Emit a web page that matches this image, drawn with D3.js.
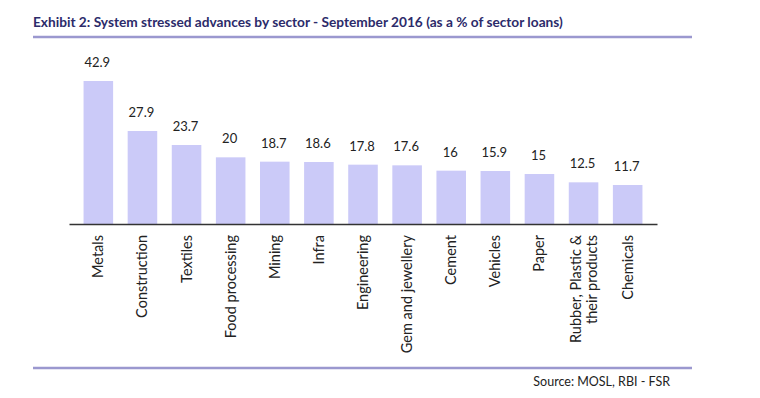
<!DOCTYPE html>
<html>
<head>
<meta charset="utf-8">
<script src="https://cdn.jsdelivr.net/npm/d3@7"></script>
<style>
  body { margin: 0; background: #fff; }
  text { font-family: Lato, "Open Sans", sans-serif; }
</style>
</head>
<body>
<script>
const sectors = [
  "Metals", "Construction", "Textiles", "Food processing", "Mining", "Infra",
  "Engineering", "Gem and jewellery", "Cement", "Vehicles", "Paper",
  "Rubber, Plastic &|their products", "Chemicals"
];
const stressed = [42.9, 27.9, 23.7, 20, 18.7, 18.6, 17.8, 17.6, 16, 15.9, 15, 12.5, 11.7];

const width = 760;
const height = 398;

const svg = d3.select("body")
  .append("svg")
  .attr("width", width)
  .attr("height", height);

// title + rules
svg.append("text")
  .attr("x", 33)
  .attr("y", 27)
  .style("font-size", "13.7px")
  .style("font-weight", "bold")
  .attr("fill", "#2c2b6a")
  .text("Exhibit 2: System stressed advances by sector - September 2016 (as a % of sector loans)");

svg.append("line")
  .attr("x1", 33).attr("x2", 692)
  .attr("y1", 37).attr("y2", 37)
  .attr("stroke", "#9b98cf")
  .attr("stroke-width", 2.5);

svg.append("line")
  .attr("x1", 33).attr("x2", 692)
  .attr("y1", 368).attr("y2", 368)
  .attr("stroke", "#9b98cf")
  .attr("stroke-width", 2.5);

const x = d3.scaleBand()
  .domain(sectors)
  .range([69, 657])
  .padding(0.33);

const y = d3.scaleLinear()
  .domain([0, 42.9])
  .range([224, 81]);

svg.append("g")
  .selectAll("rect")
  .data(stressed)
  .join("rect")
  .attr("x", (d, i) => x(sectors[i]))
  .attr("y", (d) => y(d))
  .attr("width", x.bandwidth())
  .attr("height", (d) => y(0) - y(d))
  .attr("fill", "#cbcaf8");

// value labels
svg.append("g")
  .selectAll("text")
  .data(stressed)
  .join("text")
  .attr("x", (d, i) => x(sectors[i]) + x.bandwidth() / 2 - 1)
  .attr("y", (d) => y(d) - 14)
  .attr("text-anchor", "middle")
  .style("font-size", "13px")
  .attr("fill", "#222")
  .text((d) => d);

// axis
const axis = svg.append("g")
  .attr("transform", `translate(0,${y(0)})`)
  .call(d3.axisBottom(x).tickSize(0).tickFormat(""));
axis.select(".domain").attr("stroke", "#333").attr("stroke-width", 1.5);

// category labels, rotated
const labels = svg.append("g")
  .selectAll("text")
  .data(sectors)
  .join("text")
  .attr("transform", (d) => `translate(${x(d) + x.bandwidth() / 2},235) rotate(-90)`)
  .attr("text-anchor", "end")
  .style("font-size", "14.5px")
  .attr("fill", "#222");

labels.each(function (d) {
  const parts = d.split("|");
  const t = d3.select(this);
  parts.forEach((p, j) => {
    t.append("tspan")
      .attr("x", 0)
      .attr("y", (j - (parts.length - 1) / 2) * 16 + 5)
      .text(p);
  });
});

svg.append("text")
  .attr("x", 670)
  .attr("y", 386)
  .attr("text-anchor", "end")
  .style("font-size", "12.5px")
  .attr("fill", "#222")
  .text("Source: MOSL, RBI - FSR");
</script>
</body>
</html>
